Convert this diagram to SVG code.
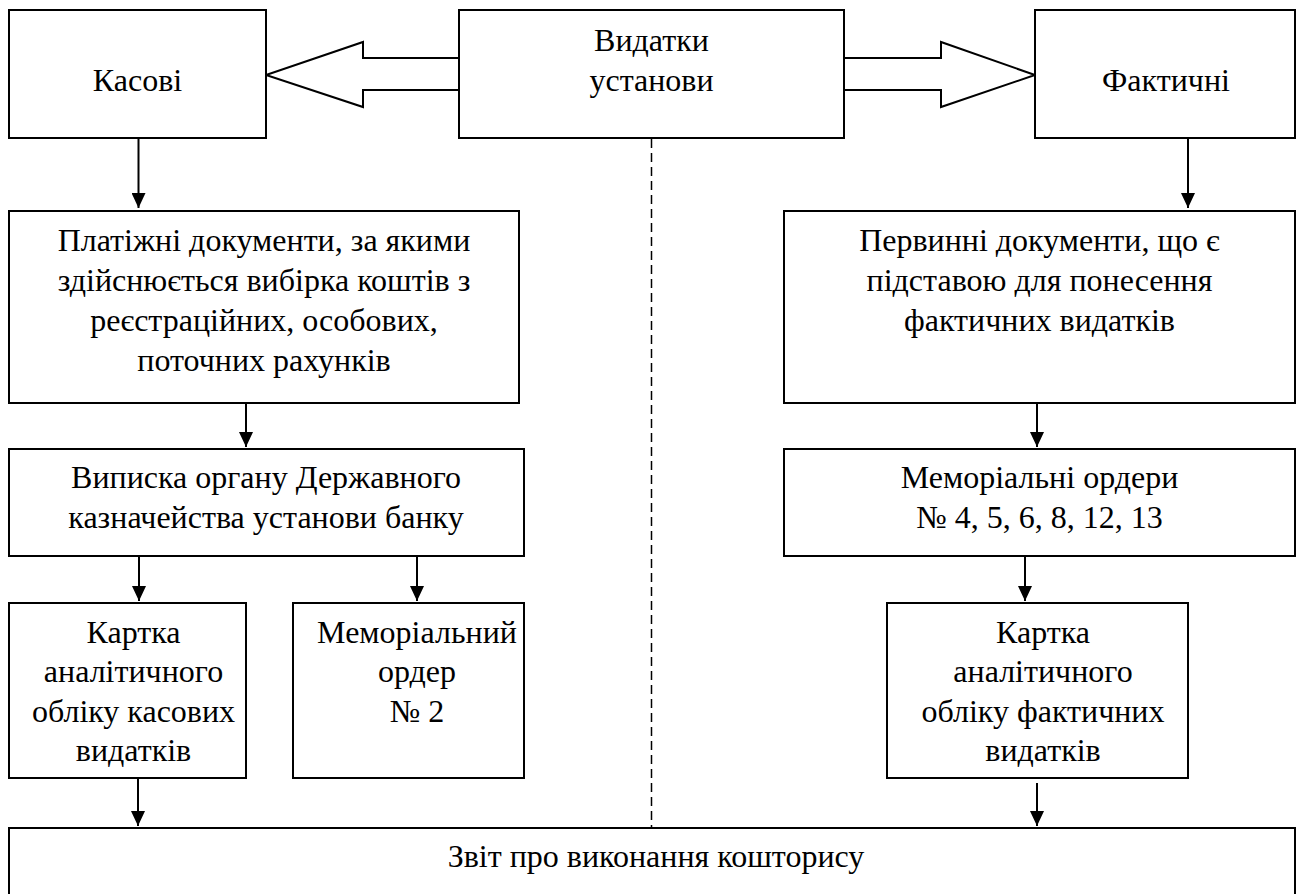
<svg xmlns="http://www.w3.org/2000/svg" width="1304" height="894" viewBox="0 0 1304 894" font-family="'Liberation Serif', 'Times New Roman', 'DejaVu Serif', serif">
<defs>
<marker id="ah" viewBox="0 0 15 14" refX="15" refY="7" markerWidth="15" markerHeight="14" markerUnits="userSpaceOnUse" orient="auto">
<path d="M0,0 L15,7 L0,14 z" fill="#000"/>
</marker>
<style>
.box{fill:#fff;stroke:#000;stroke-width:2}
.t{font-family:'Liberation Serif','Times New Roman','DejaVu Serif',serif;font-size:32px;fill:#000;text-anchor:middle}
.c{stroke:#000;stroke-width:2;fill:none}
.big{fill:#fff;stroke:#000;stroke-width:2;stroke-linejoin:miter}
.dash{stroke:#000;stroke-width:1.5;stroke-dasharray:9 5;fill:none}
</style>
</defs>
<rect width="1304" height="894" fill="#fff"/>
<g id="connectors">
<line class="dash" x1="651.5" y1="139" x2="651.5" y2="828"/>
<polyline class="big" points="459,58 363,58 363,42 266,75 363,107 363,90 459,90"/>
<polyline class="big" points="844,58 941,58 941,42 1035,75 941,107 941,90 844,90"/>
<line class="c" x1="138.5" y1="138" x2="138.5" y2="208" marker-end="url(#ah)"/>
<line class="c" x1="1188" y1="138" x2="1188" y2="208" marker-end="url(#ah)"/>
<line class="c" x1="246" y1="403" x2="246" y2="447" marker-end="url(#ah)"/>
<line class="c" x1="1037" y1="403" x2="1037" y2="447" marker-end="url(#ah)"/>
<line class="c" x1="139" y1="556" x2="139" y2="601" marker-end="url(#ah)"/>
<line class="c" x1="417" y1="556" x2="417" y2="601" marker-end="url(#ah)"/>
<line class="c" x1="1025" y1="556" x2="1025" y2="601" marker-end="url(#ah)"/>
<line class="c" x1="138" y1="778" x2="138" y2="826" marker-end="url(#ah)"/>
<line class="c" x1="1037" y1="783" x2="1037" y2="826" marker-end="url(#ah)"/>
</g>
<g id="kasovi">
<rect class="box" x="9" y="10" width="257" height="128"/>
<text class="t" x="137.5" y="91">Касові</text>
</g>
<g id="vydatky">
<rect class="box" x="459" y="10" width="385" height="128"/>
<text class="t" x="651.5" y="51">Видатки</text>
<text class="t" x="651.5" y="91">установи</text>
</g>
<g id="faktychni">
<rect class="box" x="1035" y="10" width="260" height="128"/>
<text class="t" x="1166" y="91">Фактичні</text>
</g>
<g id="platizhni">
<rect class="box" x="9" y="211" width="510" height="192"/>
<text class="t" x="264" y="251">Платіжні документи, за якими</text>
<text class="t" x="264" y="291">здійснюється вибірка коштів з</text>
<text class="t" x="264" y="331">реєстраційних, особових,</text>
<text class="t" x="264" y="371">поточних рахунків</text>
</g>
<g id="pervynni">
<rect class="box" x="784" y="211" width="511" height="192"/>
<text class="t" x="1039.5" y="251">Первинні документи, що є</text>
<text class="t" x="1039.5" y="291">підставою для понесення</text>
<text class="t" x="1039.5" y="331">фактичних видатків</text>
</g>
<g id="vypyska">
<rect class="box" x="9" y="449" width="515" height="107"/>
<text class="t" x="266" y="488">Виписка органу Державного</text>
<text class="t" x="266" y="528">казначейства установи банку</text>
</g>
<g id="memorialni-ordery">
<rect class="box" x="784" y="449" width="511" height="107"/>
<text class="t" x="1039.5" y="488">Меморіальні ордери</text>
<text class="t" x="1039.5" y="528">№ 4, 5, 6, 8, 12, 13</text>
</g>
<g id="kartka-kasovi">
<rect class="box" x="9" y="603" width="237" height="175"/>
<text class="t" x="133.5" y="643">Картка</text>
<text class="t" x="133.5" y="682">аналітичного</text>
<text class="t" x="133.5" y="722">обліку касових</text>
<text class="t" x="133.5" y="761">видатків</text>
</g>
<g id="memorialnyi-order-2">
<rect class="box" x="293" y="603" width="231" height="175"/>
<text class="t" x="417" y="643">Меморіальний</text>
<text class="t" x="417" y="682">ордер</text>
<text class="t" x="417" y="722">№ 2</text>
</g>
<g id="kartka-faktychni">
<rect class="box" x="887" y="603" width="301" height="175"/>
<text class="t" x="1043" y="643">Картка</text>
<text class="t" x="1043" y="682">аналітичного</text>
<text class="t" x="1043" y="722">обліку фактичних</text>
<text class="t" x="1043" y="761">видатків</text>
</g>
<g id="zvit">
<rect class="box" x="9" y="828" width="1286" height="90"/>
<text class="t" x="656" y="867">Звіт про виконання кошторису</text>
</g>
</svg>
